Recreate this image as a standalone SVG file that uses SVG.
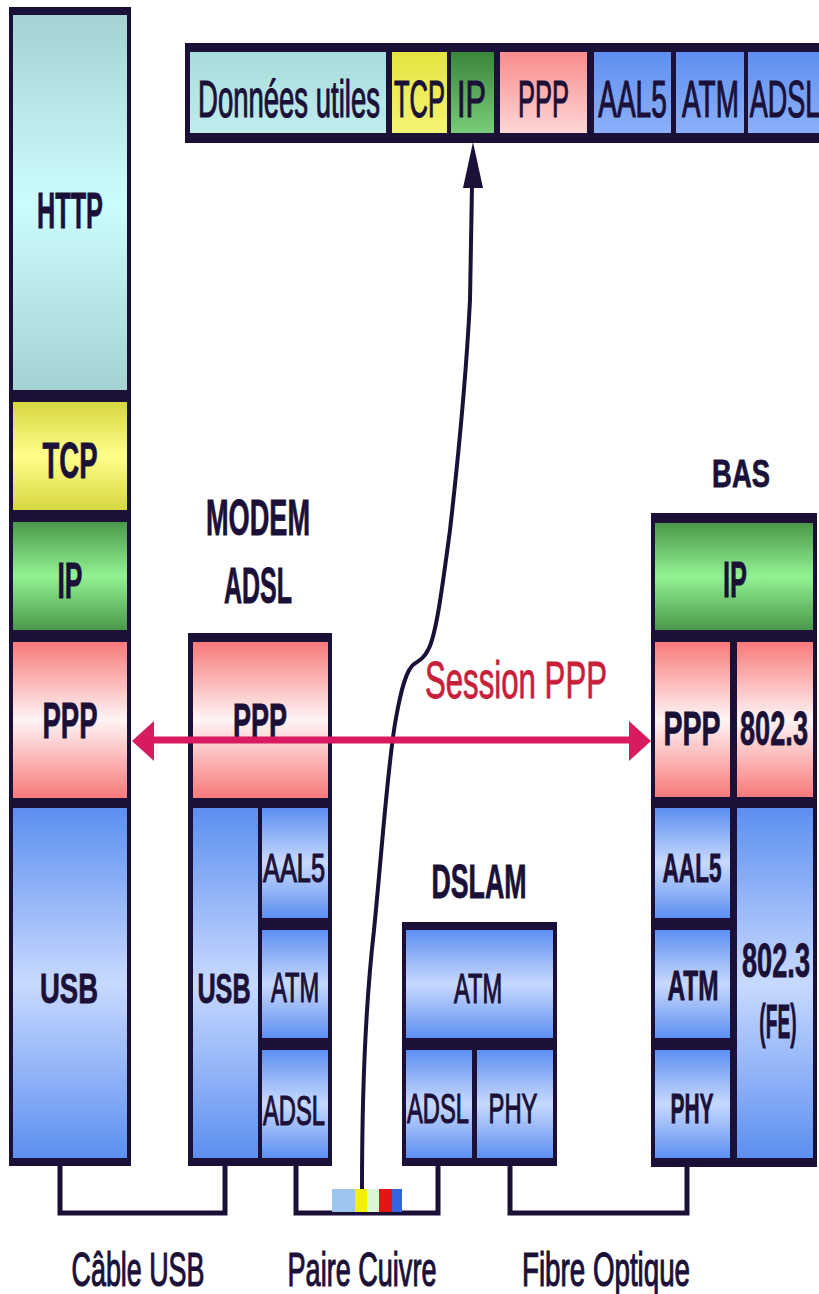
<svg xmlns="http://www.w3.org/2000/svg" width="819" height="1294" viewBox="0 0 819 1294">
<defs>
<linearGradient id="gCyan" x1="0" y1="0" x2="0" y2="1"><stop offset="0" stop-color="#a4d2d2"/><stop offset="0.5" stop-color="#ccfdfd"/><stop offset="1" stop-color="#a4d2d2"/></linearGradient>
<linearGradient id="gYel" x1="0" y1="0" x2="0" y2="1"><stop offset="0" stop-color="#d6d63e"/><stop offset="0.5" stop-color="#ffff8c"/><stop offset="1" stop-color="#d6d63e"/></linearGradient>
<linearGradient id="gGrn" x1="0" y1="0" x2="0" y2="1"><stop offset="0" stop-color="#4a984a"/><stop offset="0.5" stop-color="#92f292"/><stop offset="1" stop-color="#4a984a"/></linearGradient>
<linearGradient id="gPnk" x1="0" y1="0" x2="0" y2="1"><stop offset="0" stop-color="#f87a7a"/><stop offset="0.5" stop-color="#fff4f4"/><stop offset="1" stop-color="#f87a7a"/></linearGradient>
<linearGradient id="gBlu" x1="0" y1="0" x2="0" y2="1"><stop offset="0" stop-color="#5c8ff0"/><stop offset="0.5" stop-color="#c8d9ff"/><stop offset="1" stop-color="#5c8ff0"/></linearGradient>
<linearGradient id="tCyan" x1="0" y1="0" x2="0" y2="1"><stop offset="0" stop-color="#a8dcdc"/><stop offset="1" stop-color="#c0ecec"/></linearGradient>
<linearGradient id="tYel" x1="0" y1="0" x2="0" y2="1"><stop offset="0" stop-color="#e4e440"/><stop offset="1" stop-color="#f4f474"/></linearGradient>
<linearGradient id="tGrn" x1="0" y1="0" x2="0" y2="1"><stop offset="0" stop-color="#3a863a"/><stop offset="1" stop-color="#7acc7a"/></linearGradient>
<linearGradient id="tPnk" x1="0" y1="0" x2="0" y2="1"><stop offset="0" stop-color="#f88c8c"/><stop offset="1" stop-color="#ffd6d6"/></linearGradient>
<linearGradient id="tBlu" x1="0" y1="0" x2="0" y2="1"><stop offset="0" stop-color="#5e8ff0"/><stop offset="1" stop-color="#8cb0f8"/></linearGradient>
</defs>
<style>
.frame{fill:#1b1038}
.t{font-family:"Liberation Sans",Arial,sans-serif;fill:#1b1038;text-anchor:middle;stroke:#1b1038;stroke-width:1.2}
.b{font-weight:bold;stroke-width:0.8}
.cable{fill:none;stroke:#1b1038;stroke-width:5}
.sess{stroke:#d81b60;stroke-width:7;fill:none}
.head{fill:#d81b60}
.red{fill:#c8203a;stroke:#c8203a;stroke-width:0.8}
</style>
<rect width="819" height="1294" fill="#ffffff"/>

<g id="packet">
<rect class="frame" x="185" y="43" width="634" height="100"/>
<rect x="190" y="52" width="196" height="81" fill="url(#tCyan)"/>
<rect x="392" y="52" width="55" height="81" fill="url(#tYel)"/>
<rect x="451" y="52" width="43" height="81" fill="url(#tGrn)"/>
<rect x="500" y="52" width="87" height="81" fill="url(#tPnk)"/>
<rect x="594" y="52" width="77" height="81" fill="url(#tBlu)"/>
<rect x="676" y="52" width="68" height="81" fill="url(#tBlu)"/>
<rect x="748" y="52" width="71" height="81" fill="url(#tBlu)"/>
<text class="t" font-size="52" transform="translate(289,117) scale(0.529,1)">Données utiles</text>
<text class="t" font-size="52" transform="translate(419.5,117) scale(0.49,1)">TCP</text>
<text class="t" font-size="52" transform="translate(471.5,117) scale(0.59,1)">IP</text>
<text class="t" font-size="52" transform="translate(543.5,117) scale(0.49,1)">PPP</text>
<text class="t" font-size="52" transform="translate(632.5,117) scale(0.54,1)">AAL5</text>
<text class="t" font-size="52" transform="translate(710.5,117) scale(0.537,1)">ATM</text>
<text class="t" font-size="52" transform="translate(785,117) scale(0.52,1)">ADSL</text>
</g>

<g id="pc">
<rect class="frame" x="9" y="7" width="122" height="1159"/>
<rect x="13" y="15" width="114" height="375" fill="url(#gCyan)"/>
<rect x="13" y="402" width="114" height="108" fill="url(#gYel)"/>
<rect x="13" y="522" width="114" height="108" fill="url(#gGrn)"/>
<rect x="13" y="642" width="114" height="156" fill="url(#gPnk)"/>
<rect x="13" y="808" width="114" height="350" fill="url(#gBlu)"/>
<text class="t b" font-size="50" transform="translate(70,228) scale(0.505,1)">HTTP</text>
<text class="t b" font-size="50" transform="translate(70,478) scale(0.55,1)">TCP</text>
<text class="t b" font-size="50" transform="translate(70,598) scale(0.53,1)">IP</text>
<text class="t b" font-size="50" transform="translate(70,738) scale(0.55,1)">PPP</text>
<text class="t b" font-size="42" transform="translate(69,1003) scale(0.654,1)">USB</text>
</g>

<g id="modem">
<text class="t b" font-size="50" transform="translate(258,535) scale(0.543,1)">MODEM</text>
<text class="t b" font-size="50" transform="translate(258,603) scale(0.5,1)">ADSL</text>
<rect class="frame" x="188" y="633" width="144" height="533"/>
<rect x="193" y="642" width="135" height="156" fill="url(#gPnk)"/>
<rect x="193" y="808" width="65" height="350" fill="url(#gBlu)"/>
<rect x="262" y="808" width="66" height="110" fill="url(#gBlu)"/>
<rect x="262" y="930" width="66" height="108" fill="url(#gBlu)"/>
<rect x="262" y="1050" width="66" height="108" fill="url(#gBlu)"/>
<text class="t b" font-size="48" transform="translate(260,737) scale(0.5625,1)">PPP</text>
<text class="t b" font-size="42" transform="translate(224,1003) scale(0.6,1)">USB</text>
<text class="t" font-size="40" transform="translate(294,882) scale(0.634,1)">AAL5</text>
<text class="t" font-size="42" transform="translate(295,1002) scale(0.564,1)">ATM</text>
<text class="t" font-size="42" transform="translate(294,1125) scale(0.565,1)">ADSL</text>
</g>

<g id="dslam">
<text class="t b" font-size="48" transform="translate(479,898) scale(0.557,1)">DSLAM</text>
<rect class="frame" x="402" y="922" width="155" height="244"/>
<rect x="406" y="930" width="147" height="108" fill="url(#gBlu)"/>
<rect x="406" y="1050" width="66" height="108" fill="url(#gBlu)"/>
<rect x="477" y="1050" width="76" height="108" fill="url(#gBlu)"/>
<text class="t" font-size="42" transform="translate(478,1003) scale(0.564,1)">ATM</text>
<text class="t" font-size="42" transform="translate(438,1123) scale(0.565,1)">ADSL</text>
<text class="t" font-size="42" transform="translate(513,1123) scale(0.567,1)">PHY</text>
</g>

<g id="bas">
<text class="t b" font-size="38" transform="translate(741,487) scale(0.72,1)">BAS</text>
<rect class="frame" x="651" y="513" width="166" height="654"/>
<rect x="655" y="523" width="158" height="107" fill="url(#gGrn)"/>
<rect x="655" y="642" width="75" height="155" fill="url(#gPnk)"/>
<rect x="737" y="642" width="76" height="155" fill="url(#gPnk)"/>
<rect x="655" y="808" width="75" height="110" fill="url(#gBlu)"/>
<rect x="655" y="930" width="75" height="108" fill="url(#gBlu)"/>
<rect x="655" y="1050" width="75" height="108" fill="url(#gBlu)"/>
<rect x="737" y="808" width="76" height="350" fill="url(#gBlu)"/>
<text class="t b" font-size="50" transform="translate(735,597) scale(0.508,1)">IP</text>
<text class="t b" font-size="48" transform="translate(692,745) scale(0.594,1)">PPP</text>
<text class="t b" font-size="48" transform="translate(774,745) scale(0.566,1)">802.3</text>
<text class="t b" font-size="40" transform="translate(692,882) scale(0.565,1)">AAL5</text>
<text class="t b" font-size="42" transform="translate(693,1000) scale(0.582,1)">ATM</text>
<text class="t b" font-size="42" transform="translate(692,1123) scale(0.5,1)">PHY</text>
<text class="t b" font-size="48" transform="translate(776,977) scale(0.566,1)">802.3</text>
<text class="t b" font-size="48" transform="translate(778,1038) scale(0.4,1)">(FE)</text>
</g>

<g id="connectors">
<path class="cable" d="M60,1166 V1213 H225 V1166"/>
<path class="cable" d="M296,1166 V1213 H438 V1166"/>
<path class="cable" d="M510,1166 V1213 H687 V1166"/>
<path d="M362,1189 C362,1100 366,1000 374,930 C382,850 388,760 396,718 C401,690 406,670 414,664 C420,660 424,658 428,650 C436,636 442,590 450,530 C458,460 466,380 470,300 L472,185" fill="none" stroke="#1b1038" stroke-width="4"/>
<polygon points="473,142 463,188 483,188" fill="#1b1038"/>
<line class="sess" x1="150" y1="740" x2="633" y2="740"/>
<polygon class="head" points="132,741 154,721 154,761"/>
<polygon class="head" points="651,741 629,721 629,761"/>
<text class="t red" font-size="52" transform="translate(516,698) scale(0.6,1)">Session PPP</text>
</g>

<g id="copper-pair">
<rect x="332" y="1189" width="23" height="23" fill="#9cc6ee"/>
<rect x="355" y="1189" width="12" height="23" fill="#f2f200"/>
<rect x="367" y="1189" width="12" height="23" fill="#daf6d2"/>
<rect x="379" y="1189" width="13" height="23" fill="#e41414"/>
<rect x="392" y="1189" width="10" height="23" fill="#3464e0"/>
</g>

<g id="labels">
<text class="t" font-size="48" transform="translate(138,1286) scale(0.56,1)">Câble USB</text>
<text class="t" font-size="48" transform="translate(362,1286) scale(0.564,1)">Paire Cuivre</text>
<text class="t" font-size="48" transform="translate(606,1286) scale(0.578,1)">Fibre Optique</text>
</g>
</svg>
